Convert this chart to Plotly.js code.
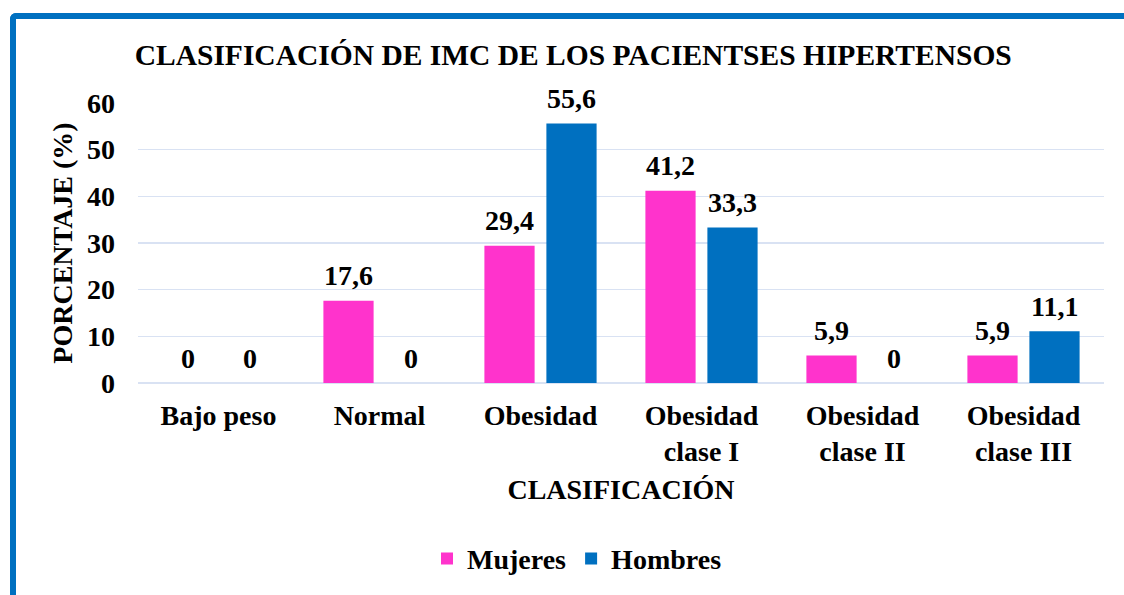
<!DOCTYPE html>
<html>
<head>
<meta charset="utf-8">
<script src="https://cdn.plot.ly/plotly-3.0.1.min.js"></script>
<style>
  html, body { margin: 0; padding: 0; background: #fff; overflow: hidden; width: 1124px; height: 595px; }
  #frame { position: absolute; left: 10px; top: 13px; width: 2000px; height: 2000px;
           border-left: 6px solid #0070C0; border-top: 6px solid #0070C0; border-top-left-radius: 6px; }
  #chart { position: absolute; left: 0; top: 0; width: 1124px; height: 595px; }
  #chart .legendtext { font-family: 'Liberation Serif', 'Times New Roman', serif !important; }
</style>
</head>
<body>
<div id="frame"></div>
<div id="chart"></div>
<script>
const categories = ["Bajo peso", "Normal", "Obesidad", "Obesidad<br>clase I", "Obesidad<br>clase II", "Obesidad<br>clase III"];
const mujeres = [0, 17.6, 29.4, 41.2, 5.9, 5.9];
const hombres = [0, 0, 55.6, 33.3, 0, 11.1];
const seriesNames = ["Mujeres", "Hombres"];
const yTicks = [0, 10, 20, 30, 40, 50, 60];

const fmt = v => String(v).replace('.', ',');
const FONT = 'Liberation Serif, Times New Roman, serif';
const font = (size) => ({ family: FONT, size: size, color: '#000', weight: 'bold' });

const mk = (name, vals, color) => ({
  type: 'bar', name: name, x: categories, y: vals,
  marker: { color: color },
  cliponaxis: false, hoverinfo: 'none'
});

const data = [
  mk(seriesNames[0], mujeres, '#FF33CC'),
  mk(seriesNames[1], hombres, '#0070C0')
];

// value labels above each bar (grouped: left = Mujeres, right = Hombres)
const labels = [];
[[mujeres, -31], [hombres, 31]].forEach(([vals, dx]) => {
  vals.forEach((v, i) => {
    labels.push({
      x: categories[i], y: v, xref: 'x', yref: 'y', text: fmt(v),
      showarrow: false, xshift: dx, yshift: 25, yanchor: 'middle', xanchor: 'center',
      font: font(28)
    });
  });
});

const layout = {
  width: 1124, height: 595,
  paper_bgcolor: 'rgba(0,0,0,0)', plot_bgcolor: 'rgba(0,0,0,0)',
  margin: { l: 138, r: 20, t: 103, b: 210 },
  font: font(28),
  title: { text: 'CLASIFICACIÓN DE IMC DE LOS PACIENTSES HIPERTENSOS',
           font: font(29.5),
           x: 0.51, xref: 'container', xanchor: 'center',
           y: 1 - 55 / 595, yref: 'container', yanchor: 'middle' },
  barmode: 'group', bargap: 0.23, bargroupgap: 0.19,
  xaxis: {
    title: { text: 'CLASIFICACIÓN', standoff: 12, font: font(28) },
    tickfont: font(28), showgrid: false, showline: false, ticks: '',
    ticklabelstandoff: 13, automargin: false
  },
  yaxis: {
    title: { text: 'PORCENTAJE (%)', standoff: 6, font: font(28) },
    range: [0, 60], tickvals: yTicks, ticktext: yTicks.map(String),
    tickfont: font(28), gridcolor: '#D9E2F3', gridwidth: 1.5,
    zeroline: true, zerolinecolor: '#D9E2F3', zerolinewidth: 1.5,
    showline: false, ticks: '', ticklabelstandoff: 22, automargin: false
  },
  annotations: labels,
  legend: { orientation: 'h', x: (577 - 138) / 966, xanchor: 'center',
            y: (385 - 562) / 282, yanchor: 'middle',
            font: font(28), itemwidth: 30 },
  showlegend: true
};

Plotly.newPlot('chart', data, layout, { displayModeBar: false, staticPlot: true });
</script>
</body>
</html>
